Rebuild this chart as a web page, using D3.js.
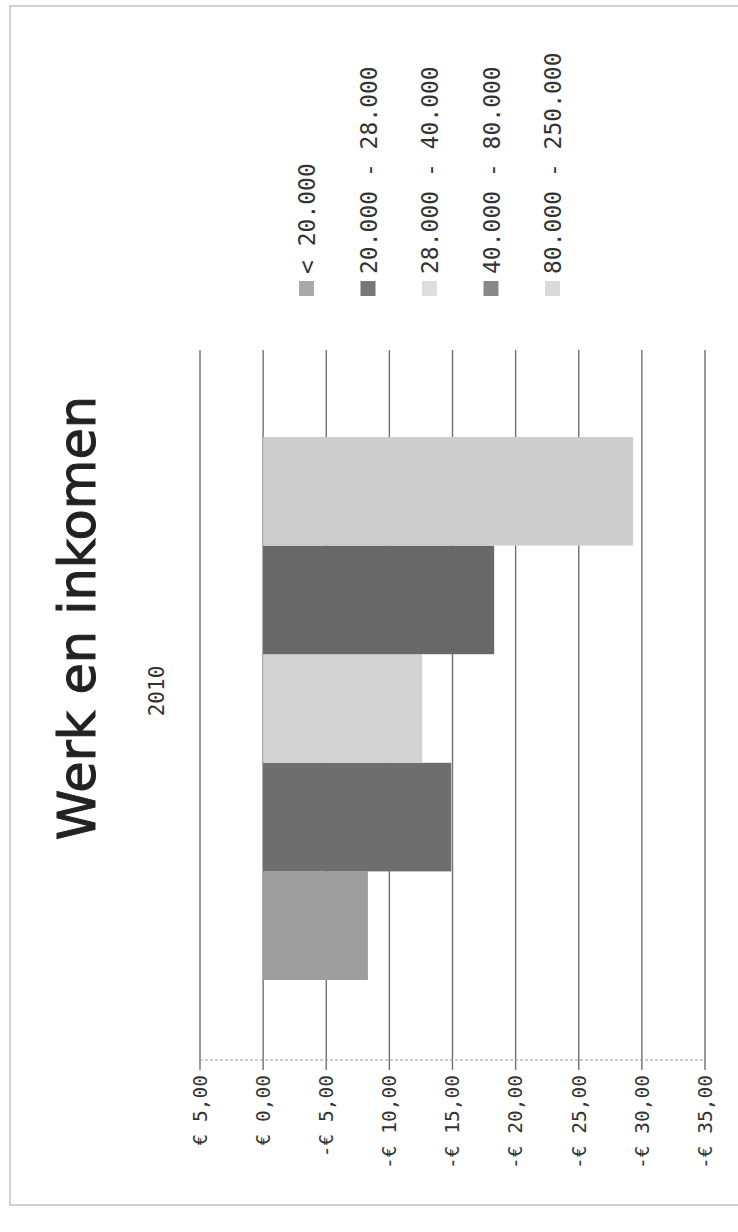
<!DOCTYPE html>
<html>
<head>
<meta charset="utf-8">
<script src="https://cdn.jsdelivr.net/npm/d3@7"></script>
<style>
  html, body { margin: 0; padding: 0; background: #fff; }
  svg { display: block; }
</style>
</head>
<body>
<svg id="chart" width="738" height="1232"></svg>
<script>
// ---- data ----
const categories = ["< 20.000", "20.000 - 28.000", "28.000 - 40.000", "40.000 - 80.000", "80.000 - 250.000"];
const values = [-8.3, -14.9, -12.6, -18.3, -29.3];
const tickValues = [5, 0, -5, -10, -15, -20, -25, -30, -35];
const tickLabels = ["€ 5,00", "€ 0,00", "-€ 5,00", "-€ 10,00", "-€ 15,00", "-€ 20,00", "-€ 25,00", "-€ 30,00", "-€ 35,00"];
const barColors = ["#9e9e9e", "#6e6e6e", "#d2d2d2", "#686868", "#cdcdcd"];
const swatchColors = ["#aaaaaa", "#777777", "#dddddd", "#888888", "#dadada"];
const title = "Werk en inkomen";
const subtitle = "2010";

const W = 738, H = 1232;
const svg = d3.select("#chart");

// page frame
svg.append("rect").attr("x", 10).attr("y", 6).attr("width", 740).attr("height", 1199)
  .attr("fill", "none").attr("stroke", "#b5b5b5").attr("stroke-width", 1.2);

// rotated frame: local u runs bottom->top of the page, v runs left->right
const g = svg.append("g").attr("transform", `translate(0,${H}) rotate(-90)`);

const y = d3.scaleLinear().domain([5, -35]).range([200, 705]);
const x = d3.scaleBand().domain(categories).range([252, 795]).paddingInner(0).paddingOuter(0);
const plotU0 = 172, plotU1 = 882;

// gridlines (with ticks past the axis)
g.append("g").selectAll("line").data(tickValues).join("line")
  .attr("x1", plotU0 - 10).attr("x2", plotU1)
  .attr("y1", d => y(d)).attr("y2", d => y(d))
  .attr("stroke", "#707070").attr("stroke-width", 1.4);

// category axis line (dotted, light)
g.append("line").attr("x1", plotU0).attr("x2", plotU0)
  .attr("y1", y(5)).attr("y2", y(-35))
  .attr("stroke", "#9a9a9a").attr("stroke-width", 1).attr("stroke-dasharray", "3,2");

// bars
g.append("g").selectAll("rect").data(values).join("rect")
  .attr("x", (d, i) => x(categories[i]))
  .attr("width", x.bandwidth())
  .attr("y", d => y(Math.max(0, d)))
  .attr("height", d => Math.abs(y(d) - y(0)))
  .attr("fill", (d, i) => barColors[i]);

// value axis labels
const axis = d3.axisLeft(y).tickValues(tickValues).tickSize(0).tickPadding(0)
  .tickFormat((d, i) => tickLabels[i]);
const ax = g.append("g").attr("transform", `translate(157,0)`).call(axis);
ax.select(".domain").remove();
ax.selectAll("text")
  .attr("font-family", "DejaVu Sans Mono")
  .attr("font-size", 19.5)
  .attr("fill", "#333");

// title
g.append("text").attr("x", 614).attr("y", 95)
  .attr("text-anchor", "middle")
  .attr("font-family", "DejaVu Sans")
  .attr("font-size", 51)
  .attr("fill", "#222")
  .attr("stroke", "#222").attr("stroke-width", 1)
  .text(title);

g.append("text").attr("x", 541).attr("y", 164)
  .attr("text-anchor", "middle")
  .attr("font-family", "DejaVu Sans Mono")
  .attr("font-size", 21)
  .attr("fill", "#333")
  .text(subtitle);

// legend
const leg = g.append("g").selectAll("g").data(categories).join("g")
  .attr("transform", (d, i) => `translate(936,${307 + i * 61.5})`);
leg.append("rect").attr("x", 0).attr("y", -8).attr("width", 15).attr("height", 15)
  .attr("fill", (d, i) => swatchColors[i]);
leg.append("text").attr("x", 22).attr("y", 0).attr("dy", "0.35em")
  .attr("font-family", "DejaVu Sans Mono")
  .attr("font-size", 23)
  .attr("fill", "#333")
  .text(d => d);
</script>
</body>
</html>
